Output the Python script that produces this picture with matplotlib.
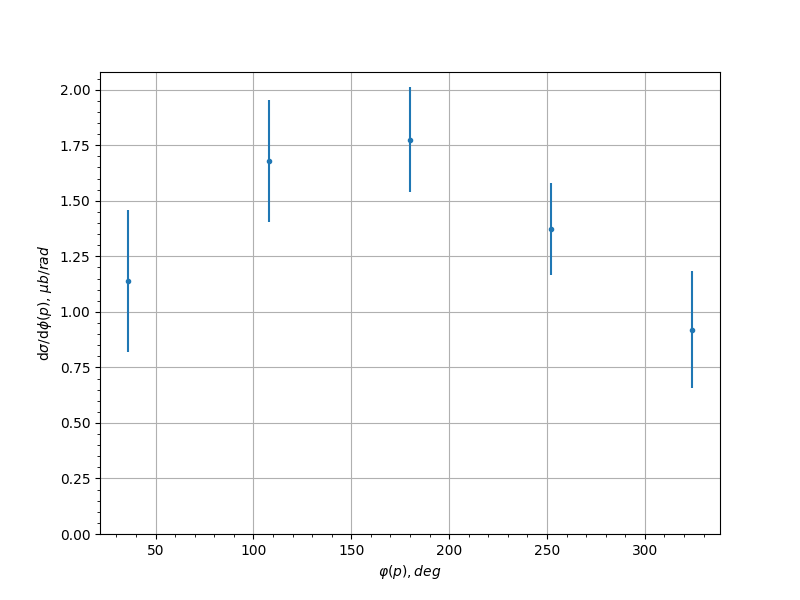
import matplotlib.pyplot as plt

phi = [36, 108, 180, 252, 324]
xsec = [1.14, 1.68, 1.775, 1.374, 0.92]
xsec_err = [0.32, 0.275, 0.237, 0.207, 0.263]

fig, ax = plt.subplots(figsize=(8, 6), dpi=100)
ax.errorbar(phi, xsec, yerr=xsec_err, fmt='.')
ax.set_ylim(bottom=0)
ax.minorticks_on()
ax.grid(True)
ax.set_xlabel(r'$\varphi(p), deg$')
ax.set_ylabel(r'd$\sigma$/d$\phi(p)$, $\mu b/rad$')
fig.savefig('out.png')
